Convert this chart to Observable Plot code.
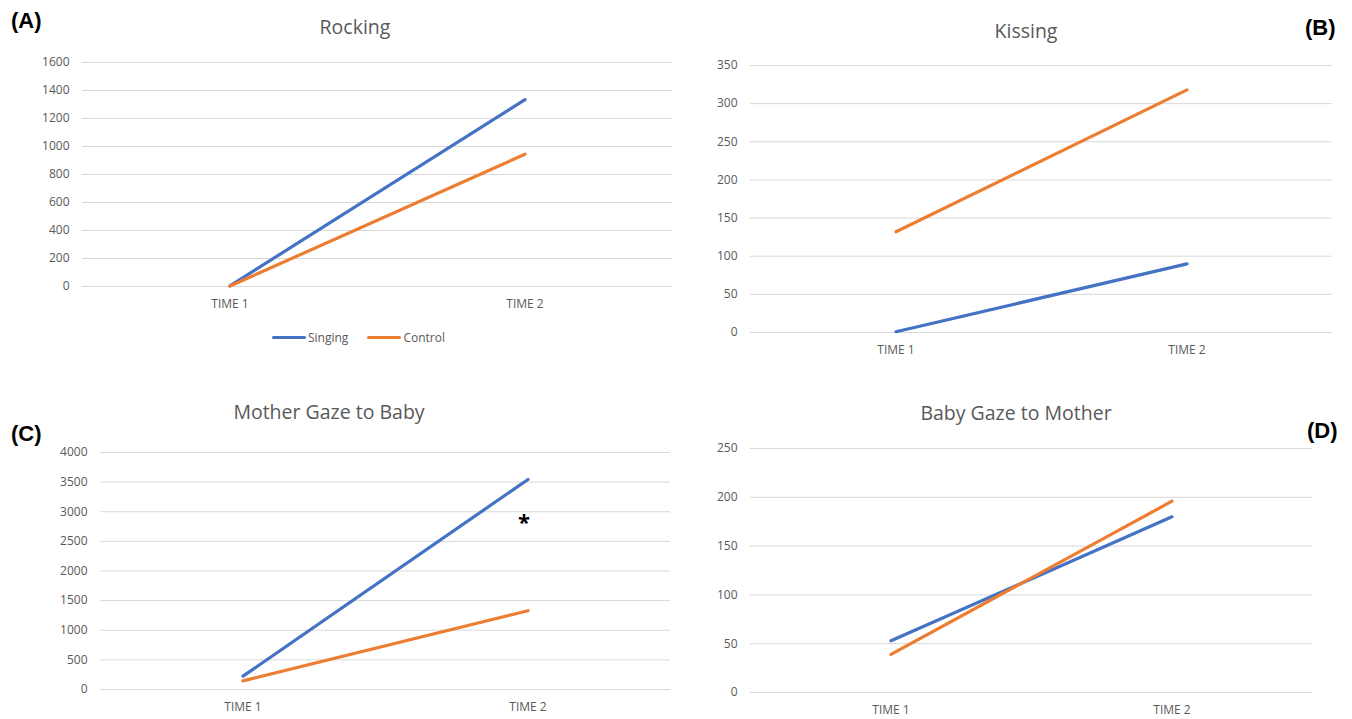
<!DOCTYPE html>
<html>
<head>
<meta charset="utf-8">
<script src="https://cdn.jsdelivr.net/npm/d3@7"></script>
<script src="https://cdn.jsdelivr.net/npm/@observablehq/plot@0.6"></script>
<style>
  html, body { margin: 0; padding: 0; background: #fff; }
  #root { position: relative; width: 1352px; height: 719px; overflow: hidden; font-family: "Open Sans", sans-serif; }
  .panel { position: absolute; }
  .title { position: absolute; transform: translateX(-50%); white-space: nowrap; font-size: 19.5px; color: #595959; line-height: 1; }
  .tag { position: absolute; font-family: "Liberation Sans", Arial, sans-serif; font-weight: bold; font-size: 22px; color: #000; line-height: 1; }
  .legend { position: absolute; font-size: 12px; color: #595959; display: flex; align-items: center; }
  .legend .sw { display: inline-block; width: 34px; height: 3px; border-radius: 2px; margin-right: 2px; }
  .legend .item { display: flex; align-items: center; margin-right: 19px; }
</style>
</head>
<body>
<div id="root"></div>
<script>
// ---------- data ----------
const times = ["TIME 1", "TIME 2"];
const seriesNames = ["Singing", "Control"];
const colors = ["#4472C4", "#ED7D31"];

const rockingSinging = [5, 1335];
const rockingControl = [3, 945];
const rockingTicks = [0, 200, 400, 600, 800, 1000, 1200, 1400, 1600];

const kissingSinging = [1, 90];
const kissingControl = [132, 318];
const kissingTicks = [0, 50, 100, 150, 200, 250, 300, 350];

const motherGazeSinging = [225, 3545];
const motherGazeControl = [146, 1330];
const motherGazeTicks = [0, 500, 1000, 1500, 2000, 2500, 3000, 3500, 4000];
const motherGazeStar = {time: "TIME 2", value: 2870, label: "*"};

const babyGazeSinging = [53, 180];
const babyGazeControl = [39, 196];
const babyGazeTicks = [0, 50, 100, 150, 200, 250];

const titles = ["Rocking", "Kissing", "Mother Gaze to Baby", "Baby Gaze to Mother"];
const tags = ["(A)", "(B)", "(C)", "(D)"];

function rows(singing, control) {
  const out = [];
  seriesNames.forEach((s, si) => {
    const vals = si === 0 ? singing : control;
    times.forEach((t, i) => out.push({series: s, time: t, value: vals[i]}));
  });
  return out;
}

const root = document.getElementById("root");

function makePanel(cfg) {
  const data = rows(cfg.singing, cfg.control);
  const marks = [
    Plot.gridY(cfg.ticks, {stroke: "#d9d9d9", strokeOpacity: 1, strokeWidth: 1}),
    Plot.axisY(cfg.ticks, {tickSize: 0, tickPadding: 13, fontSize: 12, fill: "#595959", tickFormat: d => String(d)}),
    Plot.axisX({tickSize: 0, tickPadding: 13, fontSize: 12, fill: "#595959"}),
    Plot.line(data, {x: "time", y: "value", z: "series", stroke: "series", strokeWidth: 3.2, strokeLinecap: "round"})
  ];
  if (cfg.star) {
    marks.push(Plot.text([cfg.star], {x: "time", y: "value", text: "label", fontSize: 22, fontWeight: "bold", fill: "#000", dx: -4, dy: 4}));
  }
  const svg = Plot.plot({
    width: cfg.width, height: cfg.height,
    marginLeft: cfg.ml, marginRight: cfg.mr, marginTop: cfg.mt, marginBottom: cfg.mb,
    style: {fontFamily: "Open Sans, sans-serif", background: "transparent"},
    x: {type: "band", domain: times, padding: 0, label: null},
    y: {domain: [0, cfg.ticks[cfg.ticks.length - 1]], label: null},
    color: {domain: seriesNames, range: colors},
    marks
  });
  const wrap = document.createElement("div");
  wrap.className = "panel";
  wrap.style.left = cfg.left + "px";
  wrap.style.top = cfg.top + "px";
  wrap.appendChild(svg);
  root.appendChild(wrap);
}

makePanel({left: 0, top: 50, width: 690, height: 270, ml: 82, mr: 18, mt: 12, mb: 34,
  singing: rockingSinging, control: rockingControl, ticks: rockingTicks});
makePanel({left: 680, top: 50, width: 672, height: 320, ml: 70, mr: 20, mt: 15, mb: 38,
  singing: kissingSinging, control: kissingControl, ticks: kissingTicks});
makePanel({left: 0, top: 440, width: 690, height: 279, ml: 100, mr: 20, mt: 12, mb: 30,
  singing: motherGazeSinging, control: motherGazeControl, ticks: motherGazeTicks, star: motherGazeStar});
makePanel({left: 680, top: 440, width: 672, height: 279, ml: 70, mr: 40, mt: 8, mb: 27,
  singing: babyGazeSinging, control: babyGazeControl, ticks: babyGazeTicks});

// titles
const titlePos = [[355, 17], [1026, 21], [329, 402], [1016, 403]];
titles.forEach((t, i) => {
  const d = document.createElement("div");
  d.className = "title";
  d.textContent = t;
  d.style.left = titlePos[i][0] + "px";
  d.style.top = titlePos[i][1] + "px";
  root.appendChild(d);
});
// panel tags
const tagPos = [[11, 10], [1305, 17], [11, 423], [1307, 420]];
tags.forEach((t, i) => {
  const d = document.createElement("div");
  d.className = "tag";
  d.textContent = t;
  d.style.left = tagPos[i][0] + "px";
  d.style.top = tagPos[i][1] + "px";
  root.appendChild(d);
});
// legend for panel A
const leg = document.createElement("div");
leg.className = "legend";
leg.style.left = "272px";
leg.style.top = "329px";
seriesNames.forEach((s, i) => {
  const it = document.createElement("div");
  it.className = "item";
  const sw = document.createElement("span");
  sw.className = "sw";
  sw.style.background = colors[i];
  const tx = document.createElement("span");
  tx.textContent = s;
  it.appendChild(sw); it.appendChild(tx);
  leg.appendChild(it);
});
root.appendChild(leg);
</script>
</body>
</html>
